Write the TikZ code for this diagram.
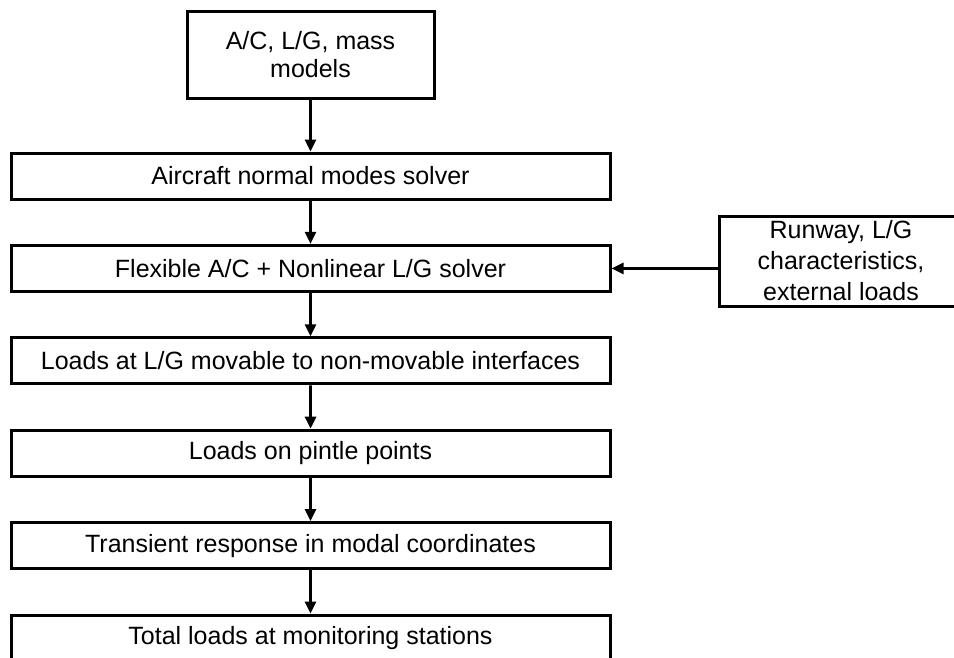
\documentclass[tikz,border=0pt]{standalone}
\usepackage{fontspec}
\setmainfont{Liberation Sans}
\usetikzlibrary{arrows.meta}

\begin{document}
\begin{tikzpicture}[x=1pt, y=-1pt,
		grow=down,
		level/.style = {level distance=92.4pt},
		level 1/.style = {level distance=121.5pt},
		every node/.style = {shape=rectangle, draw, line width=3pt, align=center, inner sep=0pt,
			font=\fontsize{25}{28}\selectfont},
		stepbox/.style = {minimum width=599pt, minimum height=46pt},
		flow/.style = {draw, line width=2.6pt, -{Triangle[length=12pt, width=11pt]}},
		edge from parent/.style = {flow}]
		\useasboundingbox (0,0) rectangle (954,657);
		\node[minimum width=247pt, minimum height=87pt] (models) at (310.5,54.5) {A/C, L/G, mass\\models}
			child { node[stepbox] (modes) {Aircraft normal modes solver}
				child { node[stepbox] (flex) {Flexible A/C + Nonlinear L/G solver}
					child { node[stepbox] (interf) {Loads at L/G movable to non-movable interfaces}
						child { node[stepbox] (pintle) {Loads on pintle points}
							child { node[stepbox] (transient) {Transient response in modal coordinates}
								child { node[stepbox] (total) {Total loads at monitoring stations} } } } } } };
		\node[minimum width=244pt, minimum height=90pt, font=\fontsize{25}{31}\selectfont] (runway) at (841,261)
			{Runway, L/G\\characteristics,\\external loads};
		\draw[flow] (runway.west |- flex.east) -- (flex.east);
	\end{tikzpicture}
\end{document}
